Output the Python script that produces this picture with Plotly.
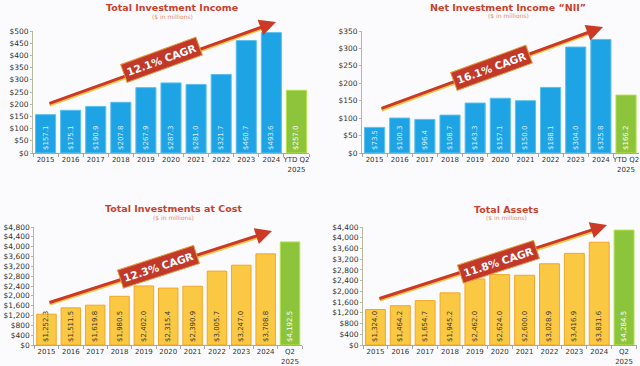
import plotly.graph_objects as go

W, H = 640, 366

years = ["2015", "2016", "2017", "2018", "2019", "2020", "2021", "2022", "2023", "2024"]
cats_ytd = years + ["YTD Q2<br>2025"]
cats_q2 = years + ["Q2<br>2025"]

total_investment_income = [157.1, 175.1, 190.9, 207.8, 267.9, 287.3, 281.0, 321.7, 460.7, 493.6, 257.0]
net_investment_income = [73.5, 100.3, 96.4, 108.7, 143.3, 157.1, 150.0, 188.1, 304.0, 325.8, 166.2]
total_investments_cost = [1252.3, 1511.5, 1619.8, 1980.5, 2402.0, 2315.4, 2390.9, 3005.7, 3247.0, 3708.8, 4192.5]
total_assets = [1324.0, 1464.2, 1654.7, 1945.2, 2462.0, 2624.0, 2600.0, 3028.9, 3416.9, 3831.6, 4284.5]

titles = ["Total Investment Income", "Net Investment Income \u201cNII\u201d",
          "Total Investments at Cost", "Total Assets"]
cagr_labels = ["12.1% CAGR", "16.1% CAGR", "12.3% CAGR", "11.8% CAGR"]

BLUE = "#1ea3e4"
GREEN = "#8cc43c"
YELLOW = "#fbc843"
FONT = "DejaVu Sans"

def px(x):
    return x / W

def py(y):
    return 1 - y / H

panels = [
    dict(cats=cats_ytd, vals=total_investment_income, color=BLUE, txt="#d9eefa",
         xd=(33, 309), yd=(153, 31), yr=500, dt=50, ax=""),
    dict(cats=cats_ytd, vals=net_investment_income, color=BLUE, txt="#d9eefa",
         xd=(362, 638.6), yd=(153, 31), yr=350, dt=50, ax="2"),
    dict(cats=cats_q2, vals=total_investments_cost, color=YELLOW, txt="#3a3a3a",
         xd=(34.3, 302.2), yd=(345, 227), yr=4800, dt=400, ax="3"),
    dict(cats=cats_q2, vals=total_assets, color=YELLOW, txt="#3a3a3a",
         xd=(363, 636.5), yd=(345, 227), yr=4400, dt=400, ax="4"),
]

fig = go.Figure()
layout = {}
for p in panels:
    n = len(p["vals"])
    colors = [p["color"]] * (n - 1) + [GREEN]
    tcolors = [p["txt"]] * (n - 1) + ["white"]
    lines = ["#f2a62a" if p["color"] == YELLOW else "#5cc0ee"] * (n - 1) + ["#b6e04a"]
    fig.add_trace(go.Bar(
        x=p["cats"], y=p["vals"],
        xaxis="x" + p["ax"], yaxis="y" + p["ax"],
        marker=dict(color=colors, line=dict(color=lines, width=1)),
        texttemplate="$%{y:,.1f}", textposition="inside", textangle=-90,
        insidetextanchor="start", constraintext="none", cliponaxis=False,
        textfont=dict(family=FONT, size=7, color=tcolors),
        showlegend=False, hoverinfo="skip",
    ))
    layout["xaxis" + p["ax"]] = dict(
        domain=[px(p["xd"][0]), px(p["xd"][1])],
        anchor="y" + p["ax"], type="category", tickangle=0, automargin=False,
        showline=True, linecolor="#a8a8a8", linewidth=1,
        ticks="outside", tickson="boundaries", ticklen=3, tickcolor="#a8a8a8",
        tickfont=dict(family=FONT, size=7, color="#333333"),
        showgrid=False, fixedrange=True,
    )
    layout["yaxis" + p["ax"]] = dict(
        domain=[py(p["yd"][0]), py(p["yd"][1])],
        anchor="x" + p["ax"], range=[0, p["yr"]], dtick=p["dt"], automargin=False,
        tickprefix="$", tickformat=",d",
        showline=True, linecolor="#b8b8a0", linewidth=1,
        ticks="outside", ticklen=2, tickcolor="#b8b8a0",
        tickfont=dict(family=FONT, size=7.5, color="#333333"),
        showgrid=False, zeroline=False, fixedrange=True,
    )

annotations = []
title_pos = [(172, 7, 16), (508, 7, 15), (173, 208, 217), (506, 209, 217)]
for t, (cx, ty, sy) in zip(titles, title_pos):
    annotations.append(dict(xref="paper", yref="paper", x=px(cx), y=py(ty),
                            text="<b>" + t + "</b>", showarrow=False,
                            font=dict(family=FONT, size=9.5, color="#c8412b"),
                            xanchor="center", yanchor="middle"))
    annotations.append(dict(xref="paper", yref="paper", x=px(cx), y=py(sy),
                            text="($ in millions)", showarrow=False,
                            font=dict(family=FONT, size=6, color="#e58a72"),
                            xanchor="center", yanchor="middle"))

arrows = [((48, 104), (276, 22)), ((380, 109), (603, 27)),
          ((48, 303), (272, 231)), ((378, 299), (607, 225))]
boxes = [((161, 60), -20), ((491, 68), -20), ((158, 267), -18), ((498, 262), -18)]

for (s, e) in arrows:
    annotations.append(dict(xref="paper", yref="paper", x=px(e[0] - 10), y=py(e[1] + 4.5),
                            ax=s[0] - (e[0] - 10), ay=(s[1] + 1.2) - (e[1] + 4.5),
                            text="", showarrow=True, arrowhead=0, arrowwidth=4,
                            arrowcolor="#f4c64a"))
    annotations.append(dict(xref="paper", yref="paper", x=px(e[0]), y=py(e[1]),
                            ax=s[0] - e[0], ay=s[1] - e[1],
                            text="", showarrow=True, arrowhead=2, arrowsize=1.1,
                            arrowwidth=3, arrowcolor="#cc3a26"))

for lab, ((bx, by), ang) in zip(cagr_labels, boxes):
    annotations.append(dict(xref="paper", yref="paper", x=px(bx), y=py(by),
                            text="<b>" + lab + "</b>", showarrow=False, textangle=ang,
                            font=dict(family=FONT, size=10.5, color="white"),
                            bgcolor="#c2392a", bordercolor="#e29a3a", borderwidth=1,
                            borderpad=3, xanchor="center", yanchor="middle"))

fig.update_layout(
    width=W, height=H,
    margin=dict(l=0, r=0, t=0, b=0, autoexpand=False),
    paper_bgcolor="#fbfbfd", plot_bgcolor="#fbfbfd",
    bargap=0.2,
    annotations=annotations,
    **layout,
)

fig.write_html("out.html", config={"displayModeBar": False},
               post_script="document.body.style.margin='0';document.body.style.padding='0';document.body.style.background='#fbfbfd';")
